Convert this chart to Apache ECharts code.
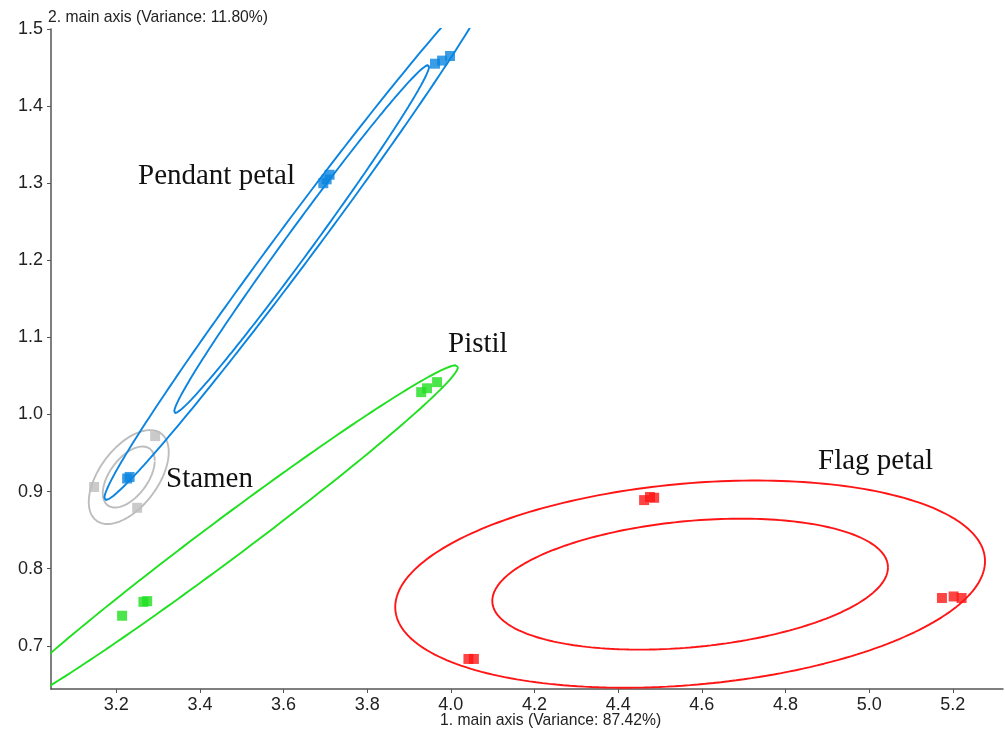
<!DOCTYPE html>
<html>
<head>
<meta charset="utf-8">
<script src="https://cdn.jsdelivr.net/npm/echarts@6/dist/echarts.min.js"></script>
<style>html,body{margin:0;padding:0;background:#fff}#c{width:1005px;height:731px}</style>
</head>
<body>
<div id="c"></div>
<script>
// ---- data ----
const xTicks = [3.2, 3.4, 3.6, 3.8, 4.0, 4.2, 4.4, 4.6, 4.8, 5.0, 5.2];
const yTicks = [0.7, 0.8, 0.9, 1.0, 1.1, 1.2, 1.3, 1.4, 1.5];
const groupNames = ['Pendant petal', 'Pistil', 'Stamen', 'Flag petal'];
const pendantPts = [[3.962,1.455],[3.979,1.459],[3.998,1.465],[3.695,1.300],[3.703,1.305],[3.710,1.311],[3.226,0.917],[3.232,0.919]];
const pistilPts = [[3.214,0.739],[3.265,0.757],[3.274,0.758],[3.929,1.029],[3.943,1.034],[3.967,1.042]];
const stamenPts = [[3.147,0.906],[3.293,0.972],[3.250,0.879]];
const flagPts = [[4.042,0.683],[4.055,0.683],[4.462,0.889],[4.476,0.893],[4.486,0.892],[5.174,0.762],[5.202,0.764],[5.221,0.762]];
// ellipses: [cx, cy, ux, uy, vx, vy]  (point = c + u cos t + v sin t)
const pendantEll = [[3.6372,1.2276,0.4620,0.3385,0.0583,0],[3.6433,1.2276,0.3023,0.2257,0.0389,0]];
const pistilEll = [[3.4628,0.8385,0.5544,0.2231,0,0.0320]];
const stamenEll = [[3.2299,0.9189,0.0956,0.0324,0,0.0516],[3.2299,0.9189,0.0621,0.0211,0,0.0335]];
const flagEll = [[4.572,0.780,0.705,0.0298,0,0.131],[4.572,0.780,0.473,0.0217,0,0.0821]];

const colors = { pendant:'#0a84e0', pistil:'#1fe01f', stamen:'#bdbdbd', flag:'#ff1515' };

function ellipsePts(e){
  const N = 240, pts = [];
  for (let i = 0; i <= N; i++) {
    const t = 2*Math.PI*i/N;
    pts.push([e[0]+e[2]*Math.cos(t)+e[4]*Math.sin(t), e[1]+e[3]*Math.cos(t)+e[5]*Math.sin(t)]);
  }
  return pts;
}
const series = [];
function addEll(list, color){
  list.forEach(e => series.push({type:'line', data:ellipsePts(e), showSymbol:false, silent:true, clip:true,
    lineStyle:{color:color, width:1.9}, z:1}));
}
addEll(stamenEll, colors.stamen);
addEll(pistilEll, colors.pistil);
addEll(flagEll, colors.flag);
addEll(pendantEll, colors.pendant);
function addPts(pts, color, size){
  series.push({type:'scatter', data:pts, symbol:'rect', symbolSize:size, itemStyle:{color:color}, z:3});
}
addPts(stamenPts, colors.stamen, 10);
addPts(pistilPts, colors.pistil, 10);
addPts(flagPts, colors.flag, 10);
addPts(pendantPts, colors.pendant, 10);

const chart = echarts.init(document.getElementById('c'), null, {renderer:'canvas'});
const axisCommon = {
  type:'value', splitLine:{show:false},
  axisLine:{show:true, lineStyle:{color:'#555', width:1.5}},
  axisTick:{show:true, length:4, lineStyle:{color:'#555', width:1}},
};
const serif = {fontFamily:'Liberation Serif', fontSize:29, fill:'#111'};
chart.setOption({
  animation:false,
  backgroundColor:'#fff',
  grid:{left:51, right:2, top:29, bottom:42},
  xAxis: Object.assign({}, axisCommon, {
    min:3.044, max:5.32,
    axisTick:Object.assign({}, axisCommon.axisTick, {customValues:xTicks}),
    axisLabel:{customValues:xTicks, formatter:v=>v.toFixed(1), fontSize:18, color:'#222', fontFamily:'Liberation Sans', margin:7}
  }),
  yAxis: Object.assign({}, axisCommon, {
    min:0.644, max:1.5,
    axisTick:Object.assign({}, axisCommon.axisTick, {customValues:yTicks}),
    axisLabel:{customValues:yTicks, formatter:v=>v.toFixed(1), fontSize:18, color:'#222', fontFamily:'Liberation Sans', margin:8}
  }),
  graphic:[
    {type:'text', left:48, top:10, style:{text:'2. main axis (Variance: 11.80%)', fontFamily:'Liberation Sans', fontSize:15.7, fill:'#222'}},
    {type:'text', left:440, top:713, style:{text:'1. main axis (Variance: 87.42%)', fontFamily:'Liberation Sans', fontSize:15.7, fill:'#222'}},
    {type:'text', left:138, top:162, style:Object.assign({text:groupNames[0]}, serif)},
    {type:'text', left:448, top:330, style:Object.assign({text:groupNames[1]}, serif)},
    {type:'text', left:166, top:465, style:Object.assign({text:groupNames[2]}, serif)},
    {type:'text', left:818, top:447, style:Object.assign({text:groupNames[3]}, serif)}
  ],
  series:series
});
</script>
</body>
</html>
